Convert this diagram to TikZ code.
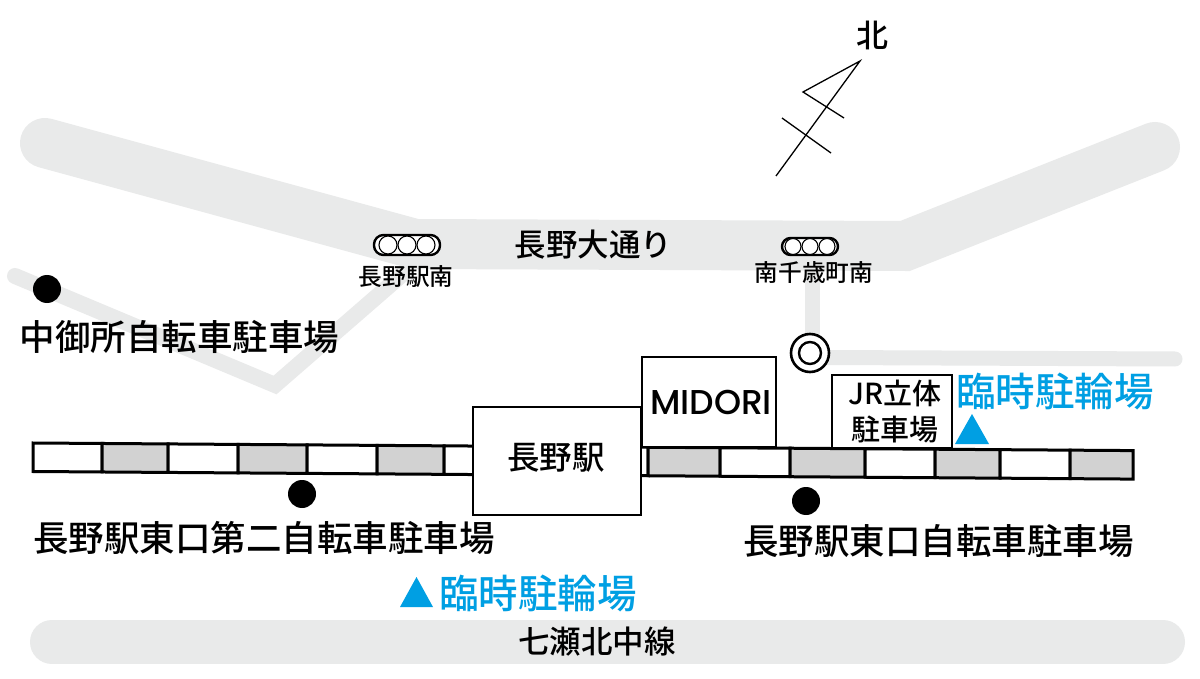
\documentclass[tikz,border=0pt]{standalone}
\usepackage{fontspec}
\setmainfont{Noto Sans CJK JP}[UprightFont=* Medium]
\newfontfamily\latinf{Poppins}[UprightFont=* Medium]
\newcommand{\fs}[1]{\fontsize{#1}{#1}\selectfont}
\definecolor{roadc}{HTML}{E9EAEA}
\definecolor{cellc}{HTML}{D2D2D2}
\definecolor{bluec}{HTML}{009FE3}
\newcommand{\railcell}[3]{%
  \pgfmathsetmacro{\ya}{443+(#1-33)*0.0069}\pgfmathsetmacro{\yb}{443+(#2-33)*0.0069}%
  \draw[railline,fill=#3] (#1,\ya) -- (#2,\yb) -- (#2,\yb+28.5) -- (#1,\ya+28.5) -- cycle;}
\tikzset{
  road/.style={draw=roadc,line join=miter},
  railline/.style={draw=black,line width=3pt,line join=miter},
  boxn/.style={draw=black,fill=white,line width=2.6pt,inner sep=0pt},
  lbl/.style={inner sep=0pt,text=black,align=center},
  bluelbl/.style={inner sep=0pt,text=bluec},
  dotn/.style={circle,fill=black,inner sep=0pt,minimum size=28pt},
  tri/.style={fill=bluec,draw=none},
  thin line/.style={draw=black,line width=1.3pt},
}
\begin{document}
\begin{tikzpicture}[x=1pt,y=-1pt]
\useasboundingbox (0,0) rectangle (1200,679);
\fill[white] (0,0) rectangle (1200,679);
% roads
\draw[road,line width=50pt,line cap=round] (45,143) -- (415,244) -- (905,246) -- (1155,147);
\draw[road,line width=16pt,line cap=round] (15,276) -- (275,385) -- (405,272);
\draw[road,line width=15pt] (812,262) -- (812,345);
\draw[road,line width=15pt,line cap=round] (825,357.5) -- (1175,359);
\draw[road,line width=44pt,line cap=round] (52,642) -- (1163,642);
% railway
\foreach \a/\b/\c in {33/102/white,102/168/cellc,168/238/white,238/307/cellc,307/377/white,377/444/cellc,444/480/white,
  640/648/white,648/720/cellc,720/790/white,790/865/cellc,865/935/white,935/1000/cellc,1000/1070/white,1070/1133/cellc}{\railcell{\a}{\b}{\c}}
% buildings
\node[boxn,minimum width=168pt,minimum height=108pt] (station) at (557,461) {};
\node[lbl] at (556,458) {\fs{32.5}長野駅};
\node[boxn,minimum width=134pt,minimum height=90pt] (midori) at (709,402) {};
\node[lbl] (midorit) at (711,402) {\latinf\fs{34.5}MIDORI};
\node[boxn,minimum width=120pt,minimum height=73pt] (jr) at (892,411.5) {};
\node[lbl] (jrt) at (895,393) {\fs{29}JR立体};
\node[lbl] (jrb) at (895,429) {\fs{29}駐車場};
% signals
\node[draw=black,fill=white,line width=2.4pt,rounded corners=9.5pt,minimum width=66pt,minimum height=20pt,inner sep=0pt] (sig1) at (407,245) {};
\foreach \x in {-19,0,19}{\draw[line width=1.1pt,fill=white] ([xshift=\x pt]sig1.center) circle (9pt);}
\node[draw=black,fill=white,line width=2.4pt,rounded corners=8.5pt,minimum width=56pt,minimum height=17pt,inner sep=0pt] (sig2) at (810,246.5) {};
\foreach \x in {-17,0,17}{\draw[line width=1.1pt,fill=white] ([xshift=\x pt]sig2.center) circle (8pt);}
\node[draw=black,fill=white,line width=2.6pt,circle,minimum size=38pt,inner sep=0pt] (rot) at (810,353) {};
\draw[line width=2.4pt] (rot.center) circle (11pt);
% dots
\node[dotn] (d1) at (47,289) {};
\node[dotn] (d2) at (302,494) {};
\node[dotn] (d3) at (806,501) {};
% triangles
\fill[tri] (955,444) -- (972,414) -- (989,444) -- cycle;
\fill[tri] (400,607) -- (416.5,577) -- (433,607) -- cycle;
% north arrow
\draw[thin line,line join=miter] (844,118) -- (803,92) -- (860,61) -- (776,176);
\draw[thin line] (782,118) -- (831,153);
% labels
\node[lbl] (north) at (872.5,35) {\fs{32}北};
\node[lbl] (l1) at (593.5,245) {\fs{31.5}長野大通り};
\node[lbl] (l2) at (406,277) {\fs{23.7}長野駅南};
\node[lbl] (l3) at (814,273) {\fs{23.7}南千歳町南};
\node[lbl] (l4) at (179.5,337) {\fs{35.5}中御所自転車駐車場};
\node[lbl] (l5) at (264,538) {\fs{35.5}長野駅東口第二自転車駐車場};
\node[lbl] (l6) at (938.5,541) {\fs{35.5}長野駅東口自転車駐車場};
\node[lbl] (l7) at (597,642) {\fs{31.5}七瀬北中線};
\node[bluelbl] (b1) at (1055,391) {\fs{39.5}臨時駐輪場};
\node[bluelbl] (b2) at (538,593) {\fs{39.5}臨時駐輪場};
\end{tikzpicture}
\end{document}
